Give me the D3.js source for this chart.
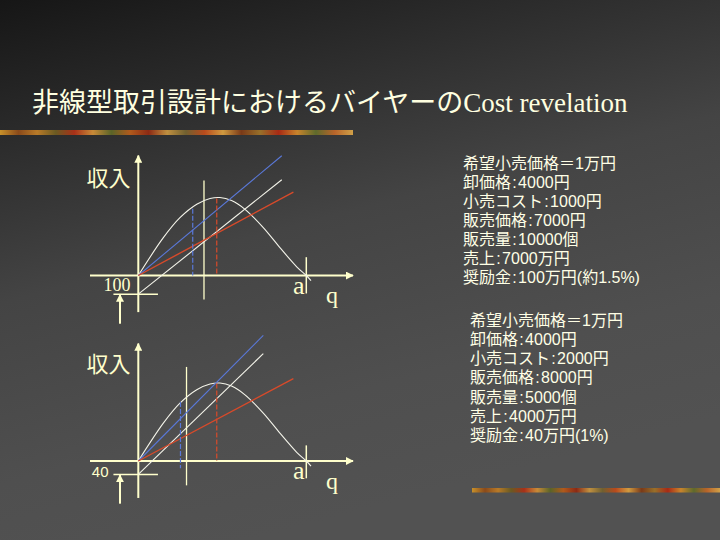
<!DOCTYPE html>
<html>
<head>
<meta charset="utf-8">
<script src="https://cdn.jsdelivr.net/npm/d3@7"></script>
<style>
  html, body { margin: 0; padding: 0; background: #333; }
  svg { display: block; }
</style>
</head>
<body>
<div id="chart"></div>
<script>
const width = 720;
const height = 540;
const ink = "#ffffcc";
const pxPerUnit = 1.68;

// revenue curve R(q), q in 0..a (a = 100), same shape in both panels
const curveQ = [0, 14.9, 24.8, 34.8, 42.7, 48.6, 55.5, 63.5, 74.4, 84.3, 94.3, 100, 102.8];
const curveR = [0, 22.5, 34.4, 42.4, 45.8, 46.4, 44.6, 39.4, 28.5, 16.6, 5.2, 0, -3];

const panelNames = ["upper", "lower"];
const originY = [275.5, 461];
const interceptLabels = ["100", "40"];
// end point of the blue line (through origin)
const blueEnd = [[85.4, 71.3], [74.4, 74.8]];
// white line: intercept on R axis and end point
const whiteStart = [-11.1, -8.0];
const whiteEnd = [[85.4, 57.0], [74.4, 63.9]];
// red line end point (through origin)
const redEnd = [[92.3, 49.6], [92.3, 49.0]];
// white vertical marker: q, top, bottom
const whiteMark = [[39.1, 56.5, -14.3], [28.7, 56.0, -14.5]];
// dashed verticals: q, top, bottom
const blueDash = [[32.4, 39.7, 0], [25.1, 35.1, -4.3]];
const redDash = [[46.7, 45.8, 0], [46.7, 46.1, 0]];
// axes extents
const yAxisTop = [71.4, 69.9];
const yAxisBottom = [-21.8, -22.0];
const arrowBottom = [-28.7, -25.4];
const aTick = [[10.9, -10.7], [9.3, -10.3]];

const sep = "\u200A:\u200A";
const infoUpper = ["希望小売価格＝1万円", "卸価格" + sep + "4000円", "小売コスト" + sep + "1000円",
  "販売価格" + sep + "7000円", "販売量" + sep + "10000個", "売上" + sep + "7000万円",
  "奨励金" + sep + "100万円(約1.5%)"];
const infoLower = ["希望小売価格＝1万円", "卸価格" + sep + "4000円", "小売コスト" + sep + "2000円",
  "販売価格" + sep + "8000円", "販売量" + sep + "5000個", "売上" + sep + "4000万円",
  "奨励金" + sep + "40万円(1%)"];

const barColors = ["#c8902a", "#8a4a1a", "#b87a28", "#6a5a22", "#a83018", "#c88a38", "#5a6428",
  "#b05a1c", "#8c2a14", "#c09040", "#706030", "#b84a1c", "#d09a40", "#7a3a18", "#98702a",
  "#a82a14", "#c8842c", "#5e6a2c", "#b8642a", "#d0a048"];

const svg = d3.select("#chart").append("svg")
  .attr("width", width)
  .attr("height", height);

const defs = svg.append("defs");

const bg = defs.append("linearGradient").attr("id", "bg")
  .attr("x1", 0).attr("y1", 0).attr("x2", 0.35).attr("y2", 1);
bg.append("stop").attr("offset", 0).attr("stop-color", "#161616");
bg.append("stop").attr("offset", 0.5).attr("stop-color", "#444444");
bg.append("stop").attr("offset", 0.8).attr("stop-color", "#4f4f4f");
bg.append("stop").attr("offset", 1).attr("stop-color", "#525252");

const bar = defs.append("linearGradient").attr("id", "bar");
barColors.forEach((c, i) => {
  bar.append("stop").attr("offset", i / (barColors.length - 1)).attr("stop-color", c);
});

defs.append("marker")
  .attr("id", "arrow")
  .attr("viewBox", "0 0 10 10")
  .attr("refX", 9).attr("refY", 5)
  .attr("markerWidth", 4).attr("markerHeight", 4)
  .attr("markerUnits", "strokeWidth")
  .attr("orient", "auto")
  .append("path")
  .attr("d", "M0,0 L10,5 L0,10 Z")
  .attr("fill", ink);

svg.append("rect").attr("width", width).attr("height", height).attr("fill", "url(#bg)");

// decorative bars
svg.append("rect").attr("x", 0).attr("y", 130).attr("width", 353).attr("height", 5).attr("fill", "url(#bar)");
svg.append("rect").attr("x", 472).attr("y", 488).attr("width", 248).attr("height", 4.5).attr("fill", "url(#bar)");

// title
const title = svg.append("text")
  .attr("x", 32).attr("y", 112)
  .attr("fill", "#ffffe0")
  .style("font-size", "27px");
title.append("tspan").style("font-family", "'Noto Sans CJK JP'").text("非線型取引設計におけるバイヤーの");
title.append("tspan").style("font-family", "'Liberation Serif'").text("Cost revelation");

panelNames.forEach((name, i) => {
  const x = d3.scaleLinear().domain([0, 100]).range([138.3, 138.3 + 100 * pxPerUnit]);
  const y = d3.scaleLinear().domain([0, 100]).range([originY[i], originY[i] - 100 * pxPerUnit]);
  const g = svg.append("g").attr("class", name);

  const seg = (x1, y1, x2, y2, color, w, dash) => g.append("line")
    .attr("x1", x(x1)).attr("y1", y(y1)).attr("x2", x(x2)).attr("y2", y(y2))
    .attr("stroke", color).attr("stroke-width", w)
    .attr("stroke-dasharray", dash || null);

  // axes
  seg(-28.75, 0, 127.8, 0, ink, 2).attr("marker-end", "url(#arrow)");
  seg(0, yAxisBottom[i], 0, yAxisTop[i], ink, 2).attr("marker-end", "url(#arrow)");

  // intercept marker and arrow pointing at it
  seg(-14.8, whiteStart[i], 11.7, whiteStart[i], ink, 1.5);
  seg(-10.9, arrowBottom[i], -10.9, whiteStart[i] - 0.3, ink, 2).attr("marker-end", "url(#arrow)");

  // a tick
  seg(100, aTick[i][0], 100, aTick[i][1], ink, 1.5);

  // white vertical marker
  seg(whiteMark[i][0], whiteMark[i][1], whiteMark[i][0], whiteMark[i][2], ink, 1.3);

  // revenue curve
  const pts = curveQ.map((q, k) => [q, curveR[k]]);
  g.append("path")
    .datum(pts)
    .attr("d", d3.line().x(d => x(d[0])).y(d => y(d[1])).curve(d3.curveCatmullRom))
    .attr("fill", "none")
    .attr("stroke", "#f4f4ea")
    .attr("stroke-width", 1.1);

  // cost lines
  seg(0, 0, blueEnd[i][0], blueEnd[i][1], "#5a78d8", 1.1);
  seg(0, whiteStart[i], whiteEnd[i][0], whiteEnd[i][1], "#f4f4ea", 1.1);
  seg(0, 0, redEnd[i][0], redEnd[i][1], "#d84a2a", 1.4);

  // dashed verticals
  seg(blueDash[i][0], blueDash[i][1], blueDash[i][0], blueDash[i][2], "#5a78d8", 1.2, "5,2");
  seg(redDash[i][0], redDash[i][1], redDash[i][0], redDash[i][2], "#d84a2a", 1.2, "5,2");

  // labels
  g.append("text")
    .attr("x", 86.5).attr("y", originY[i] - 99.5)
    .attr("dominant-baseline", "central")
    .attr("fill", ink)
    .style("font-family", "'Noto Sans CJK JP'")
    .style("font-size", "22px")
    .text("収入");

  g.append("text")
    .attr("x", i === 0 ? 130.5 : 108.5).attr("y", originY[i] + (i === 0 ? 15.5 : 15.7))
    .attr("text-anchor", "end")
    .attr("fill", ink)
    .style("font-family", i === 0 ? "'Liberation Serif'" : "'Liberation Sans'")
    .style("font-size", i === 0 ? "18px" : "15px")
    .text(interceptLabels[i]);

  g.append("text")
    .attr("x", 293).attr("y", originY[i] + 18)
    .attr("fill", ink)
    .style("font-family", "'Liberation Serif'")
    .style("font-size", "26px")
    .text("a");

  g.append("text")
    .attr("x", 326).attr("y", originY[i] + 27.5)
    .attr("fill", ink)
    .style("font-family", "'Liberation Serif'")
    .style("font-size", "24px")
    .text("q");
});

// info blocks
const blocks = [
  { lines: infoUpper, x: 463, y0: 163.3, dy: 19.07 },
  { lines: infoLower, x: 470, y0: 320, dy: 19.3 }
];
blocks.forEach(b => {
  svg.append("g").selectAll("text")
    .data(b.lines)
    .join("text")
    .attr("x", b.x)
    .attr("y", (d, k) => b.y0 + k * b.dy)
    .attr("dominant-baseline", "central")
    .attr("fill", "#ffffe6")
    .style("font-family", "'Liberation Sans', 'Noto Sans CJK JP'")
    .style("font-size", "16px")
    .text(d => d);
});
</script>
</body>
</html>
